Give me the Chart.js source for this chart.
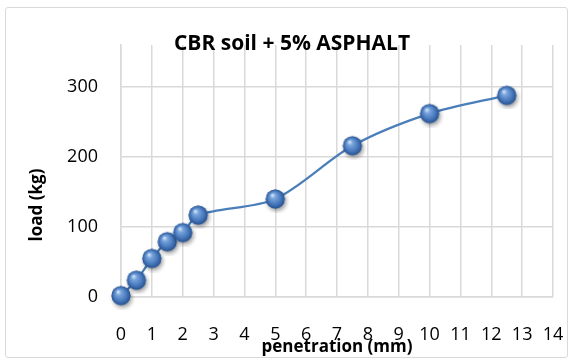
<!DOCTYPE html>
<html>
<head>
<meta charset="utf-8">
<script src="https://cdn.jsdelivr.net/npm/chart.js@4.4.0/dist/chart.umd.min.js"></script>
<style>
    body { margin: 0; background: #fff; }
    #wrap { position: relative; width: 573px; height: 361px; }
    #marco { position: absolute; left: 5px; top: 7px; width: 561px; height: 349px; border: 1.5px solid #d9d9d9; border-radius: 3px; pointer-events: none; }
</style>
</head>
<body>
<div id="wrap">
    <canvas id="myChart" width="573" height="361"></canvas>
    <div id="marco"></div>
</div>
<script>
const titulo = 'CBR soil + 5% ASPHALT';
const tituloX = 'penetration (mm)';
const tituloY = 'load (kg)';
const penetracion = [0, 0.5, 1, 1.5, 2, 2.5, 5, 7.5, 10, 12.5];
const carga = [2, 24, 55, 79, 92, 117, 140, 216, 262, 288];

// esfera azul estilo Excel para los marcadores
function crearEsfera() {
    const c = document.createElement('canvas');
    c.width = 28;
    c.height = 28;
    const g = c.getContext('2d');
    const cx = 14, cy = 14, r = 9.5;
    g.save();
    g.shadowColor = 'rgba(0,0,0,0.4)';
    g.shadowBlur = 4;
    g.shadowOffsetX = 1.5;
    g.shadowOffsetY = 2.5;
    g.fillStyle = '#3a6aa8';
    g.beginPath();
    g.arc(cx, cy, r, 0, Math.PI * 2);
    g.fill();
    g.restore();
    const grad = g.createRadialGradient(cx - 3, cy - 4, 0.5, cx, cy, r);
    grad.addColorStop(0, '#d0e2f7');
    grad.addColorStop(0.25, '#78a4dc');
    grad.addColorStop(0.7, '#4677bb');
    grad.addColorStop(1, '#28528f');
    g.fillStyle = grad;
    g.beginPath();
    g.arc(cx, cy, r, 0, Math.PI * 2);
    g.fill();
    return c;
}

const textos = {
    id: 'textos',
    afterDraw(chart) {
        const ctx = chart.ctx;
        ctx.save();
        ctx.fillStyle = '#000';
        ctx.textAlign = 'center';
        ctx.textBaseline = 'middle';
        ctx.font = 'bold 21px "Open Sans"';
        ctx.fillText(titulo, 292, 44);
        ctx.translate(37, 205);
        ctx.rotate(-Math.PI / 2);
        ctx.font = 'bold 17px "Open Sans"';
        ctx.fillText(tituloY, 0, 0);
        ctx.restore();
    }
};

const esfera = crearEsfera();
const ctx = document.getElementById('myChart').getContext('2d');

new Chart(ctx, {
    type: 'scatter',
    data: {
        datasets: [{
            data: penetracion.map((x, i) => ({ x: x, y: carga[i] })),
            showLine: true,
            borderColor: '#4a7ebb',
            borderWidth: 2.25,
            tension: 0.3,
            pointStyle: esfera,
            pointRadius: 10,
            clip: false
        }]
    },
    options: {
        responsive: false,
        animation: false,
        events: [],
        layout: { padding: { top: 45, right: 0, left: 0, bottom: 0 } },
        plugins: {
            legend: { display: false },
            tooltip: { enabled: false }
        },
        scales: {
            x: {
                type: 'linear',
                min: 0,
                max: 14,
                afterFit: s => { s.height = 64; s.paddingRight = 20; },
                ticks: { stepSize: 1, padding: 27, color: '#000', font: { family: 'Open Sans', size: 18 } },
                grid: { color: '#d9d9d9', lineWidth: 1.5, drawTicks: false },
                border: { color: '#d9d9d9', width: 1.5 },
                title: { display: true, text: tituloX, color: '#000', font: { family: 'Open Sans', size: 17, weight: 'bold' }, padding: { top: 0, bottom: 4 } }
            },
            y: {
                min: 0,
                max: 360,
                afterFit: s => { s.width = 121; },
                ticks: { stepSize: 100, includeBounds: false, padding: 23, color: '#000', font: { family: 'Open Sans', size: 18 } },
                grid: { color: '#d9d9d9', lineWidth: 1.5, drawTicks: false },
                border: { color: '#d9d9d9', width: 1.5 }
            }
        }
    },
    plugins: [textos]
});
</script>
</body>
</html>
